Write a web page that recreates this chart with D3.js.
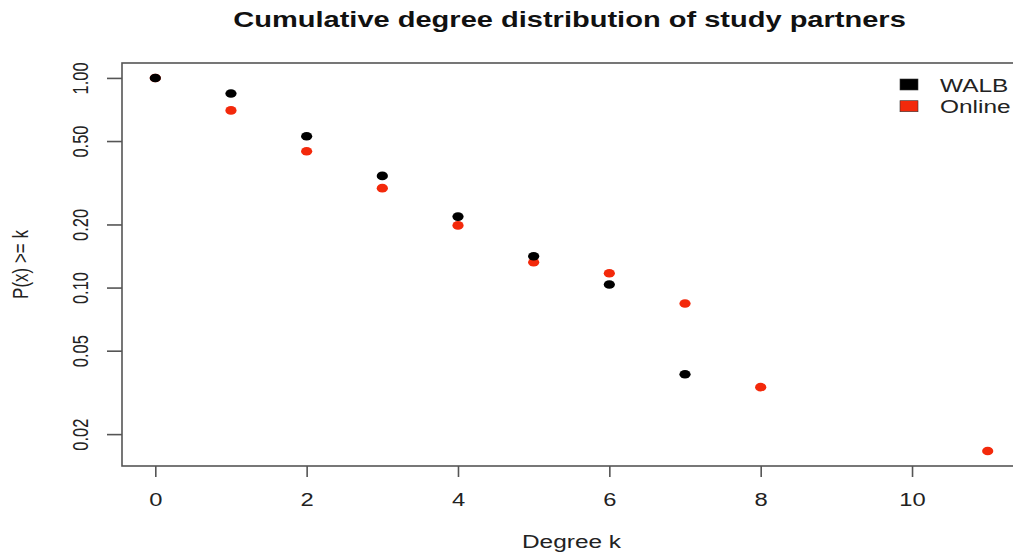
<!DOCTYPE html>
<html>
<head>
<meta charset="utf-8">
<script src="https://cdnjs.cloudflare.com/ajax/libs/d3/7.8.5/d3.min.js"></script>
<style>
  body { margin: 0; background: #fff; }
  svg { display: block; font-family: 'Liberation Sans', Arial, sans-serif; }
</style>
</head>
<body>
<svg id="chart" width="1013" height="555"></svg>
<script>
// cumulative degree distribution
var walbK = [0, 1, 2, 3, 4, 5, 6, 7]
var walbP = [1.0, 0.843, 0.527, 0.341, 0.218, 0.141, 0.1035, 0.0386]

var onlineK = [0, 1, 2, 3, 4, 5, 6, 7, 8, 11]
var onlineP = [1.0, 0.70, 0.447, 0.298, 0.198, 0.132, 0.117, 0.084, 0.0335, 0.0166]

var xTicks = [0, 2, 4, 6, 8, 10]
var yTicks = [0.02, 0.05, 0.10, 0.20, 0.50, 1.00]

var seriesNames = ['WALB', 'Online']
var seriesColors = ['#000000', '#f3290b']

var svg = d3.select('#chart')
var box = {left: 122, right: 1021, top: 63, bottom: 466}
var sx = 1.32  // the source picture is squeezed wider than tall, text too

// R style 4% padding around the data range
var allK = walbK.concat(onlineK)
var allP = walbP.concat(onlineP)
var kExt = d3.extent(allK), kPad = (kExt[1] - kExt[0])*0.04
var lExt = d3.extent(allP.map(Math.log10)), lPad = (lExt[1] - lExt[0])*0.04

var x = d3.scaleLinear()
  .domain([kExt[0] - kPad, kExt[1] + kPad])
  .range([box.left, box.right])

var y = d3.scaleLog()
  .domain([Math.pow(10, lExt[0] - lPad), Math.pow(10, lExt[1] + lPad)])
  .range([box.bottom, box.top])

var axisColor = '#555'
var textColor = '#222'

// frame
svg.append('rect')
  .attr('x', box.left).attr('y', box.top)
  .attr('width', box.right - box.left).attr('height', box.bottom - box.top)
  .attr('fill', 'none').attr('stroke', axisColor).attr('stroke-width', 1.6)

// x axis
var xAxis = d3.axisBottom(x).tickValues(xTicks).tickSize(11).tickSizeOuter(0).tickFormat(d3.format('d'))
var gx = svg.append('g').attr('transform', 'translate(0,' + box.bottom + ')').call(xAxis)
gx.select('.domain').remove()
gx.selectAll('line').attr('stroke', axisColor).attr('stroke-width', 1.6)
gx.selectAll('text')
  .attr('fill', textColor).attr('font-size', 18)
  .attr('dy', null).attr('y', null)
  .attr('transform', 'translate(0,39.5) scale(' + sx + ',1)')

// y axis, labels turned like R's default las=0
var yAxis = d3.axisLeft(y).tickValues(yTicks).tickSize(15).tickSizeOuter(0).tickFormat(d3.format('.2f'))
var gy = svg.append('g').attr('transform', 'translate(' + box.left + ',0)').call(yAxis)
gy.select('.domain').remove()
gy.selectAll('line').attr('stroke', axisColor).attr('stroke-width', 1.6)
gy.selectAll('text')
  .attr('fill', textColor).attr('font-size', 16.5)
  .attr('x', null).attr('y', null).attr('dy', null)
  .attr('text-anchor', 'middle')
  .attr('transform', 'translate(-34,0) scale(' + sx + ',1) rotate(-90)')

// points, online first so WALB sits on top
var series = [
  {name: seriesNames[1], color: seriesColors[1], pts: d3.zip(onlineK, onlineP)},
  {name: seriesNames[0], color: seriesColors[0], pts: d3.zip(walbK, walbP)}
]

series.forEach(function(s){
  svg.append('g').selectAll('ellipse')
    .data(s.pts)
    .join('ellipse')
    .attr('cx', function(d){ return x(d[0]) })
    .attr('cy', function(d){ return y(d[1]) })
    .attr('rx', 5.6).attr('ry', 4.3)
    .attr('fill', s.color)
})

// legend
var legend = svg.append('g').attr('transform', 'translate(900,79)')
var lg = legend.selectAll('g').data(seriesNames).join('g')
  .attr('transform', function(d, i){ return 'translate(0,' + i*21.7 + ')' })
lg.append('rect')
  .attr('width', 18).attr('height', 11)
  .attr('fill', function(d, i){ return seriesColors[i] })
  .attr('stroke', '#333').attr('stroke-width', 0.6)
lg.append('text')
  .attr('transform', 'translate(40,12.5) scale(' + sx + ',1)')
  .attr('font-size', 18.5).attr('fill', textColor)
  .text(function(d){ return d })

// title and axis labels
var midX = (box.left + box.right)/2
svg.append('text')
  .attr('transform', 'translate(' + (midX - 2) + ',27) scale(' + sx + ',1)')
  .attr('text-anchor', 'middle')
  .attr('font-size', 22).attr('font-weight', 'bold').attr('fill', '#111')
  .text('Cumulative degree distribution of study partners')

svg.append('text')
  .attr('transform', 'translate(' + midX + ',548) scale(' + sx + ',1)')
  .attr('text-anchor', 'middle')
  .attr('font-size', 18.5).attr('fill', textColor)
  .text('Degree k')

svg.append('text')
  .attr('transform', 'translate(28,' + (box.top + box.bottom)/2 + ') scale(' + sx + ',1) rotate(-90)')
  .attr('text-anchor', 'middle')
  .attr('font-size', 17).attr('fill', textColor)
  .text('P(x) >= k')
</script>
</body>
</html>
